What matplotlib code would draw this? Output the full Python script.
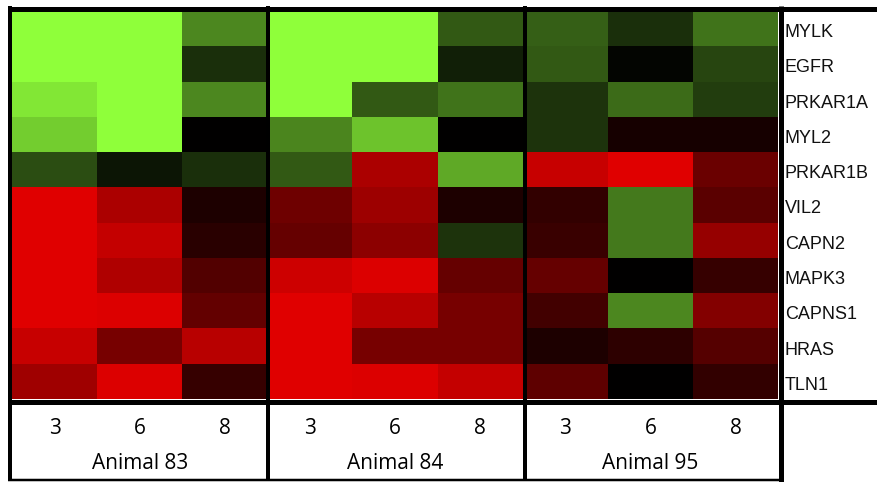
import numpy as np
import matplotlib.pyplot as plt
from matplotlib.colors import LinearSegmentedColormap

W, H = 877, 482
DPI = 100

genes = ['MYLK', 'EGFR', 'PRKAR1A', 'MYL2', 'PRKAR1B', 'VIL2',
         'CAPN2', 'MAPK3', 'CAPNS1', 'HRAS', 'TLN1']
animals = ['Animal 83', 'Animal 84', 'Animal 95']
timepoints = ['3', '6', '8']

# scaled expression ratio per gene (rows) and time point (cols), -1 green .. +1 red
animal83 = [[-1.00, -1.00, -0.53],
            [-1.00, -1.00, -0.18],
            [-0.90, -1.00, -0.53],
            [-0.80, -1.00, 0.00],
            [-0.30, -0.08, -0.18],
            [1.00, 0.76, 0.13],
            [1.00, 0.87, 0.18],
            [1.00, 0.78, 0.36],
            [1.00, 0.98, 0.44],
            [0.89, 0.53, 0.82],
            [0.71, 0.98, 0.24]]
animal84 = [[-1.00, -1.00, -0.35],
            [-1.00, -1.00, -0.12],
            [-1.00, -0.35, -0.45],
            [-0.52, -0.76, 0.00],
            [-0.35, 0.76, -0.66],
            [0.49, 0.70, 0.13],
            [0.45, 0.62, -0.20],
            [0.91, 0.98, 0.45],
            [1.00, 0.82, 0.53],
            [1.00, 0.53, 0.53],
            [1.00, 0.98, 0.87]]
animal95 = [[-0.37, -0.18, -0.45],
            [-0.35, -0.02, -0.27],
            [-0.20, -0.42, -0.24],
            [-0.20, 0.10, 0.10],
            [0.89, 1.00, 0.47],
            [0.22, -0.47, 0.40],
            [0.25, -0.47, 0.67],
            [0.45, 0.00, 0.24],
            [0.29, -0.53, 0.58],
            [0.13, 0.20, 0.38],
            [0.42, 0.00, 0.22]]

data = np.hstack([animal83, animal84, animal95])
nrow, ncol = data.shape

cmap = LinearSegmentedColormap.from_list(
    'gbr', [(0.0, '#8FFF3A'), (0.5, '#000000'), (1.0, '#E00000')])

fig = plt.figure(figsize=(W / DPI, H / DPI), dpi=DPI)
fig.patch.set_facecolor('white')

# heatmap area
ax = fig.add_axes([12 / W, (H - 399) / H, 766 / W, 388 / H])
ax.pcolormesh(data, cmap=cmap, vmin=-1, vmax=1)
ax.set_xlim(0, ncol)
ax.set_ylim(nrow, 0)
ax.axis('off')

# gene names on the right
for i, g in enumerate(genes):
    ax.text(9.08, i + 0.74, g, ha='left', va='baseline', fontsize=13,
            family='Liberation Sans', color='#111111', clip_on=False)

# time points and animal labels below
tr = ax.get_xaxis_transform()
for a, name in enumerate(animals):
    for t, tp in enumerate(timepoints):
        ax.text(a * 3 + t + 0.5, -0.075, tp, transform=tr, ha='center', va='center',
                fontsize=15, family='Open Sans')
    ax.text(a * 3 + 1.5, -0.165, name, transform=tr, ha='center', va='center',
            fontsize=15, family='Open Sans')

# frame lines, drawn in pixel space
ov = fig.add_axes([0, 0, 1, 1])
ov.set_xlim(0, W)
ov.set_ylim(H, 0)
ov.axis('off')
ov.patch.set_alpha(0)
px = 0.72
kw = dict(color='black', solid_capstyle='butt')
ov.plot([8, W], [8.5, 8.5], lw=5 * px, **kw)
ov.plot([10, 10], [6, 481], lw=4 * px, **kw)
ov.plot([267.5, 267.5], [6, 481], lw=4 * px, **kw)
ov.plot([524.5, 524.5], [6, 481], lw=4 * px, **kw)
ov.plot([780.5, 780.5], [6, H], lw=5 * px, **kw)
ov.plot([8, W], [401.5, 401.5], lw=5 * px, **kw)
ov.plot([8, 782], [480, 480], lw=2.5 * px, **kw)

fig.savefig('out.png', dpi=DPI)
